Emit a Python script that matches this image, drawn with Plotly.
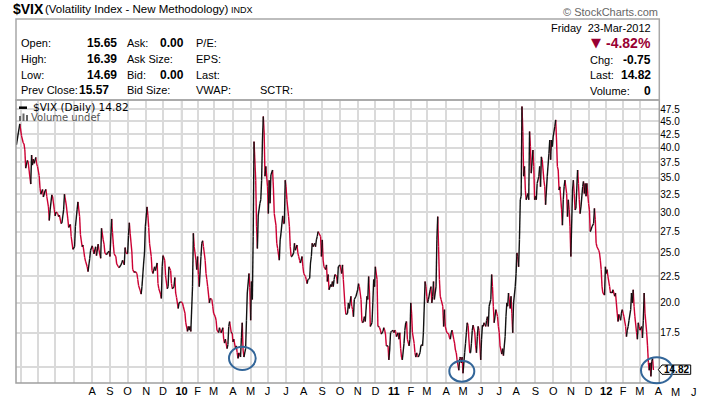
import numpy as np
import pandas as pd
import plotly.graph_objects as go

# ---------------- data ----------------
# (trading-day index counted from 2009-03-25, $VIX close)
vix_2009 = [(0,40.5),(4,44.5),(6,42.2),(8,40.9),(9,40.7),(10,39.6),(11,36.5),(13,37.8),(14,37.5),(15,36.2),
 (17,34.0),(18,38.7),(19,37.0),(20,38.0),(21,37.3),(23,38.3),(24,37.2),(25,36.8),(27,35.3),(28,33.4),
 (29,32.5),(31,33.2),(32,32.1),(34,33.0),(35,33.2),(36,32.2),(38,30.7),(39,28.9),(40,30.3),(42,32.4),
 (43,32.1),(45,30.3),(46,29.5),(47,30.0),(49,29.8),(50,29.4),(51,29.6),(53,28.5),(54,28.6),(56,30.3),
 (57,32.5),(59,31.1),(61,29.1),(62,28.0),(64,28.4),(65,26.9),(67,25.4),(69,25.7),(70,28.1),(72,30.3),
 (73,31.4),(75,29.4),(76,27.1),(78,25.7),(79,25.9),(81,24.5),(82,24.1),(84,23.5),(85,23.0),(87,24.4),
 (88,25.3),(90,25.8),(91,25.4),(92,24.9),(94,25.7),(95,24.7),(97,26.0),(98,25.3),(100,24.4),(101,27.9),
 (103,26.5),(104,26.0),(105,25.0),(107,24.8),(108,25.0),(110,25.2),(111,24.6),(113,29.1),(114,27.4),(115,26.0),
 (116,24.9),(118,24.6),(119,23.8),(121,23.5),(122,23.4),(124,23.7),(125,23.9),(126,24.2),(128,23.7),(129,25.6),
 (130,25.0),(132,24.9),(133,27.0),(134,28.6),(135,27.3),(137,25.1),(138,23.2),(140,22.9),(141,23.0),(143,22.8),
 (144,22.2),(145,21.6),(147,21.1),(148,20.8),(149,21.5),(151,23.9),(152,25.0),(153,28.1),(155,30.7),(156,29.6),
 (157,28.0),(158,26.1),(160,24.6),(161,23.1),(162,22.8),(164,23.5),(165,23.1),(167,23.9),(168,21.8),(169,21.3),
 (171,20.8),(172,20.4),(173,23.5),(174,24.7),(176,24.2),(177,22.6),(179,21.3),(180,21.5),(181,23.5),(183,23.1),
 (184,21.8),(185,21.3),(187,21.5),(188,22.4),(189,20.9),(190,20.5),(192,19.5),(193,20.0)]

vix_2010 = [(195,20.1),(197,20.0),(198,19.7),(200,19.1),(201,18.3),(203,17.6),(204,18.0),(205,17.7),(206,18.0),
 (207,17.6),(209,21.5),(210,27.3),(211,25.7),(213,24.2),(214,23.2),(215,24.6),(216,22.7),(217,21.5),(219,24.6),
 (220,26.1),(221,26.4),(222,25.7),(224,24.2),(225,22.8),(226,22.2),(227,21.5),(229,20.0),(230,20.4),(232,20.3),
 (233,19.7),(234,19.1),(236,18.8),(237,18.5),(238,17.7),(240,17.5),(241,17.9),(242,17.7),(243,17.5),(245,17.9),
 (246,17.0),(247,16.7),(248,17.0),(250,16.3),(251,16.6),(252,18.0),(253,18.4),(255,17.5),(256,17.5),(257,16.8),
 (258,17.0),(260,16.3),(261,16.5),(262,16.0),(263,15.6),(264,16.0),(266,15.7),(267,17.1),(268,18.3),(269,16.2),
 (270,15.7),(272,16.3),(273,18.5),(274,20.9),(276,22.8),(277,21.4),(278,18.5),(279,22.0),(280,20.3),(281,26.9),
 (282,41.1),(284,34.6),(285,28.1),(286,25.5),(287,29.6),(289,31.2),(290,31.7),(291,34.6),(292,41.4),(293,46.0),
 (294,42.7),(295,35.2),(296,36.8),(298,33.6),(299,29.8),(300,34.6),(301,31.2),(302,35.4),(304,36.2),(305,33.4),
 (306,29.8),(308,28.3),(309,26.1),(310,25.5),(312,24.2),(313,26.5),(314,27.3),(316,29.5),(317,28.5),(318,28.5),
 (319,34.6),(320,33.6),(321,31.7),(323,29.4),(324,28.1),(325,25.7),(326,24.6),(327,24.6),(329,25.0),(330,26.1),
 (331,25.3),(333,25.9),(334,25.0),(335,24.6),(336,24.2),(337,23.9),(339,24.6),(340,23.5),(341,22.8),(343,22.5),
 (344,22.2),(345,21.8),(346,22.2),(348,22.3),(349,23.9),(350,24.6),(351,26.1),(352,25.7),(354,26.1),(355,25.7),
 (356,26.5),(357,26.9),(358,27.5),(359,27.3),(361,26.9),(362,24.6),(363,26.5),(364,24.2),(365,23.5),(367,23.2),
 (368,23.7),(369,22.0),(370,22.7),(371,21.2),(373,21.7),(374,21.5),(375,22.0),(376,21.5),(377,22.2),(378,22.7),
 (380,22.5),(381,21.8),(382,23.5),(384,23.7)]

vix_2011a = [(386,22.8),(387,23.7),(388,22.2),(390,19.7),(391,19.0),(392,19.0),(393,19.1),(394,20.0),(395,19.5),
 (397,20.6),(398,19.7),(399,19.4),(400,18.8),(401,20.3),(403,20.6),(404,20.9),(405,21.2),(406,21.8),(407,21.5),
 (409,20.3),(410,18.4),(411,18.3),(412,18.5),(413,18.8),(414,18.4),(416,20.6),(417,20.3),(418,22.5),(419,20.9),
 (420,18.0),(422,18.3),(423,20.0),(424,22.2),(425,21.5),(426,23.5),(428,22.2),(429,18.0),(430,18.0),(431,17.9),
 (432,17.7),(433,17.4),(435,17.6),(436,17.9),(437,17.7),(438,17.4),(439,16.5),(441,16.5),(442,15.5),(443,16.2),
 (444,17.5),(445,17.6),(447,17.7),(448,17.5),(449,17.7),(450,17.6),(451,17.2),(453,17.5),(454,17.0),(455,17.5),
 (456,16.3),(457,15.7),(458,15.5),(460,16.7),(461,17.7),(462,18.3),(463,18.4),(464,17.0),(466,16.5),(467,17.0),
 (468,20.0),(469,19.1),(470,17.5),(472,16.7),(473,16.0),(474,15.7),(475,16.0),(476,15.8),(477,15.7),(479,16.0),
 (480,16.5),(481,16.6),(482,16.5),(483,17.5),(485,22.0),(486,21.5),(487,20.6),(488,20.0),(489,20.3),(491,21.2),
 (492,21.5),(493,20.0),(494,20.6),(495,22.0),(496,20.3),(498,21.5),(499,26.5),(500,29.4),(501,25.7),(502,22.2),
 (503,20.6),(504,20.3),(506,19.7),(507,18.0),(508,19.4),(509,18.0),(510,17.7),(511,17.5),(513,17.4),(514,17.1),
 (515,17.0),(516,17.5),(517,17.7),(519,17.0),(520,16.7),(521,16.2),(522,16.0),(523,15.5),(525,14.8),(526,15.6),
 (527,15.7),(528,15.3),(529,15.7),(530,14.6),(532,16.0),(533,16.7),(534,17.5),(535,18.3),(536,18.1),(538,16.0),
 (539,16.0),(540,16.7),(541,17.7),(542,18.1),(544,17.5),(545,16.5),(546,16.0),(547,17.2),(548,18.0),(549,17.7),
 (551,15.5),(552,17.0),(553,18.1),(554,18.0),(555,18.3),(557,18.0),(558,18.5),(559,18.8),(560,18.0),(561,19.7),
 (563,20.3),(564,22.7),(565,21.5),(566,19.7),(567,18.3),(569,19.4),(570,19.1),(571,18.8),(572,18.0),(573,17.5),
 (574,16.5),(576,15.9)]

vix_2011b = [(577,16.3),(578,15.8),(580,17.2),(581,18.8),(582,20.0),(583,19.7),(584,20.9),(586,19.5),(587,20.6),
 (588,19.1),(589,17.5),(590,20.0),(592,21.5),(593,22.8),(594,25.0),(595,24.6),(596,23.5),(597,26.5),(598,31.7),
 (599,32.2),(600,48.1),(601,43.0),(602,35.2),(603,36.8),(604,33.1),(605,31.7),(607,32.6),(608,31.7),(609,43.0),
 (610,40.2),(611,35.7),(613,39.6),(614,36.8),(615,31.7),(616,32.2),(617,31.7),(618,34.1),(620,35.2),(621,36.8),
 (622,33.6),(623,38.4),(624,37.9),(626,34.6),(627,33.6),(628,31.0),(629,33.1),(630,35.2),(632,39.0),(633,41.4),
 (634,37.9),(635,41.4),(636,40.2),(637,42.0),(639,44.0),(640,45.3),(641,41.4),(642,36.8),(643,36.2),(644,33.1),
 (645,33.6),(647,30.3),(648,28.3),(649,31.7),(650,33.6),(651,34.6),(653,32.6),(654,29.4),(655,31.7),(656,30.3),
 (657,28.1),(658,24.6),(660,33.1),(661,34.6),(662,32.6),(663,30.3),(664,30.5),(666,36.2),(667,34.1),(668,31.7),
 (669,29.8),(670,30.7),(672,33.6),(673,34.4),(674,32.6),(675,34.1),(676,32.2),(677,34.1),(679,31.2),(680,30.3),
 (681,27.5),(682,27.7),(683,28.1),(685,28.5),(686,30.5),(687,29.0),(688,26.1),(689,25.7),(691,25.3),(692,25.0),
 (693,24.2),(694,23.2),(695,21.5),(696,20.9),(698,20.7)]

vix_2012 = [(699,23.5),(700,22.8),(701,23.2),(702,22.5),(704,21.5),(705,20.9),(706,21.0),(707,20.9),(708,21.2),
 (710,20.6),(711,20.9),(712,20.0),(713,19.1),(714,18.4),(715,19.0),(717,18.5),(718,19.1),(719,19.4),(720,19.1),
 (721,18.8),(723,18.0),(724,17.2),(725,17.7),(726,18.0),(727,18.5),(729,19.4),(730,20.9),(731,20.0),(732,21.2),
 (733,19.7),(734,18.8),(736,17.5),(737,17.0),(738,18.3),(739,18.0),(740,17.7),(742,18.0),(743,17.1),(744,18.5),
 (745,20.9),(746,19.1),(748,17.5),(749,16.5),(750,15.3),(751,14.8),(752,15.3),(753,14.4),(754,15.4),(755,15.6),
 (756,14.82)]

last_close = 14.82
y_ticks = [15, 17.5, 20, 22.5, 25, 27.5, 30, 32.5, 35, 37.5, 40, 42.5, 45, 47.5]
month_letters = ['J', 'F', 'M', 'A', 'M', 'J', 'J', 'A', 'S', 'O', 'N', 'D']
nyse_holidays = ['2009-04-10','2009-05-25','2009-07-03','2009-09-07','2009-11-26','2009-12-25',
 '2010-01-01','2010-01-18','2010-02-15','2010-04-02','2010-05-31','2010-07-05','2010-09-06','2010-11-25','2010-12-24',
 '2011-01-17','2011-02-21','2011-04-22','2011-05-30','2011-07-04','2011-09-05','2011-11-24','2011-12-26',
 '2012-01-02','2012-01-16','2012-02-20','2012-04-06','2012-05-28','2012-07-04']

quote_left = [("Open:", "15.65", "Ask:", "0.00", "P/E:"),
              ("High:", "16.39", "Ask Size:", "", "EPS:"),
              ("Low:", "14.69", "Bid:", "0.00", "Last:"),
              ("Prev Close:", "15.57", "Bid Size:", "", "VWAP:")]
quote_right = [("Chg:", "-0.75"), ("Last:", "14.82"), ("Volume:", "0")]
pct_change = "-4.82%"
quote_date = "Friday  23-Mar-2012"

# ---------------- build ----------------
pts = vix_2009 + vix_2010 + vix_2011a + vix_2011b + vix_2012
t = [p[0] for p in pts]
v = [p[1] for p in pts]

up_x, up_y, dn_x, dn_y = [], [], [], []
for i in range(len(t) - 1):
    if v[i + 1] >= v[i]:
        up_x += [t[i], t[i + 1], None]; up_y += [v[i], v[i + 1], None]
    else:
        dn_x += [t[i], t[i + 1], None]; dn_y += [v[i], v[i + 1], None]

cal = pd.bdate_range('2009-03-25', '2012-07-31')
cal = cal[~cal.isin(pd.to_datetime(nyse_holidays))]
pos = pd.Series(np.arange(len(cal)), index=cal)
firsts = pos.groupby([cal.year, cal.month]).first()

W, H = 705, 397
def fx(x): return x / W
def fy(y): return 1 - y / H

X0, X1 = 16, 659.3
Y0, Y1 = 100, 383
K = 0.8426
xr0 = -0.5
xr1 = xr0 + (X1 - X0) / K
xr2 = xr0 + (W - X0) / K
def day_to_px(d): return X0 + (d - xr0) * K

grid_months = [int(i) for (yy, mm), i in firsts.items() if i <= xr1]
grid_years = [int(i) for (yy, mm), i in firsts.items() if mm == 1 and i <= xr1]
lab_in_v, lab_in_t, lab_out_v, lab_out_t = [], [], [], []
for (yy, mm), i in firsts.items():
    if (yy, mm) >= (2009, 8) and i <= xr2:
        s = '<b>%02d</b>' % (yy % 100) if mm == 1 else month_letters[mm - 1]
        if i <= xr1:
            lab_in_v.append(int(i)); lab_in_t.append(s)
        else:
            lab_out_v.append(int(i)); lab_out_t.append(s)

fig = go.Figure()
fig.add_trace(go.Scatter(x=dn_x, y=dn_y, mode='lines', line=dict(color='#cc0033', width=1.4),
                         hoverinfo='skip', showlegend=False))
fig.add_trace(go.Scatter(x=up_x, y=up_y, mode='lines', line=dict(color='#111111', width=1.4),
                         hoverinfo='skip', showlegend=False))

GRID = '#dadada'
ylo, yhi = np.log10(13.98), np.log10(49.5)
fig.update_layout(
    width=W, height=H, margin=dict(l=0, r=0, t=0, b=0, autoexpand=False),
    paper_bgcolor='white', plot_bgcolor='white', showlegend=False,
    xaxis=dict(domain=[fx(X0), fx(X1)], range=[xr0, xr1],
               tickvals=lab_in_v, ticktext=lab_in_t, showgrid=False,
               minor=dict(tickvals=grid_months, showgrid=True, gridcolor=GRID, gridwidth=1.5),
               ticks='', zeroline=False, showline=False,
               tickfont=dict(family='Liberation Sans', size=11, color='#000')),
    yaxis=dict(type='log', range=[ylo, yhi], domain=[1 - Y1 / H, 1 - Y0 / H], side='right',
               tickvals=y_ticks, ticktext=['' if y == 15 else '%.1f' % y for y in y_ticks],
               showgrid=True, gridcolor=GRID, gridwidth=1.5, ticks='',
               zeroline=False, showline=False,
               tickfont=dict(family='Liberation Sans', size=10, color='#000')),
)

ann = []
def txt(x, y, s, size=11, bold=False, color='#000', anchor='left', family='Liberation Sans'):
    ann.append(dict(x=fx(x), y=fy(y), xref='paper', yref='paper', text=('<b>%s</b>' % s if bold else s),
                    showarrow=False, xanchor=anchor, yanchor='middle',
                    font=dict(size=size, color=color, family=family)))

# month labels beyond the last trading day (future part of the time axis)
for i, s in zip(lab_out_v, lab_out_t):
    txt(day_to_px(i), 391.5, s, anchor='center')

# title line
txt(11, 8.5, '$VIX', size=14, bold=True)
txt(43, 9.5, '(Volatility Index - New Methodology)', size=11.5)
txt(229, 10, 'INDX', size=9)
txt(660, 11.5, '© StockCharts.com', size=11, color='#666', anchor='right')

rows_y = [43.3, 59.3, 75, 90.3]
for (lab, val, lab2, val2, lab3), yy in zip(quote_left, rows_y):
    txt(19, yy, lab)
    if lab == 'Prev Close:':
        txt(77, yy, val, size=12, bold=True)
    else:
        txt(119, yy, val, size=12, bold=True, anchor='right')
    txt(125, yy, lab2)
    if val2:
        txt(186, yy, val2, size=12, bold=True, anchor='right')
    txt(194, yy, lab3)
txt(258, 90.3, 'SCTR:')

txt(653, 28.3, quote_date, anchor='right')
txt(595.5, 42.5, '▼', size=13, color='#990033', anchor='center', family='DejaVu Sans')
txt(653, 43.3, pct_change, size=14, bold=True, color='#990033', anchor='right')
for (lab, val), yy in zip(quote_right, [60, 75, 91]):
    txt(587.5, yy, lab)
    txt(653, yy, val, size=12, bold=True, anchor='right')

# legend
txt(30.5, 107.5, '$VIX (Daily) %.2f' % last_close, size=10.5, family='DejaVu Sans')
txt(29, 118, 'Volume undef', size=10, color='#555', family='DejaVu Sans')

# last value tag
ann.append(dict(x=fx(676.5), y=np.log10(last_close), xref='paper', yref='y', text='<b>%.2f</b>' % last_close,
                showarrow=False, xanchor='center', yanchor='middle',
                font=dict(size=10, color='#000', family='Liberation Sans')))
fig.update_layout(annotations=ann)

shapes = []
# darker year separators
for i in grid_years:
    shapes.append(dict(type='line', xref='x', yref='paper', x0=i, x1=i, y0=fy(Y1), y1=fy(Y0),
                       layer='between', line=dict(color='#bcbcbc', width=1.5)))
# plot frame and header box
shapes.append(dict(type='rect', xref='paper', yref='paper', x0=fx(X0), x1=fx(X1), y0=fy(Y1), y1=fy(Y0),
                   line=dict(color='#a0a0a0', width=1.5)))
shapes.append(dict(type='rect', xref='paper', yref='paper', x0=fx(X0), x1=fx(X1), y0=fy(Y0), y1=fy(19),
                   line=dict(color='#a8a8a8', width=1.5)))
# legend marks
shapes.append(dict(type='line', xref='paper', yref='paper', x0=fx(19), x1=fx(27), y0=fy(107.7), y1=fy(107.7),
                   line=dict(color='#000', width=2.5)))
for a, b, top in [(19, 21, 116), (22.5, 24.5, 113.5), (26, 28, 115)]:
    shapes.append(dict(type='rect', xref='paper', yref='paper', x0=fx(a), x1=fx(b), y0=fy(121), y1=fy(top),
                       line=dict(width=0), fillcolor='#666'))
# last value tag box
path = 'M %f %f L %f %f L %f %f L %f %f L %f %f Z' % (fx(658.3), fy(369.7), fx(662), fy(365), fx(690.7), fy(365),
                                                    fx(690.7), fy(374.3), fx(662), fy(374.3))
shapes.append(dict(type='path', xref='paper', yref='paper', path=path, line=dict(color='#000', width=1),
                   fillcolor='white'))
# hand-drawn circles
for a, b, c, d in [(229, 255.7, 346.7, 370), (449.3, 474.3, 360.7, 381.7), (641, 672.7, 357.3, 383.3)]:
    shapes.append(dict(type='circle', xref='paper', yref='paper', x0=fx(a), x1=fx(b), y0=fy(d), y1=fy(c),
                       line=dict(color='#336699', width=2)))
fig.update_layout(shapes=shapes)

# the page's default 8px body margin would shift the 705x397 figure; remove it
fig.write_html('out.html', config={'displayModeBar': False},
               post_script="document.body.style.margin='0';document.body.style.padding='0';")
